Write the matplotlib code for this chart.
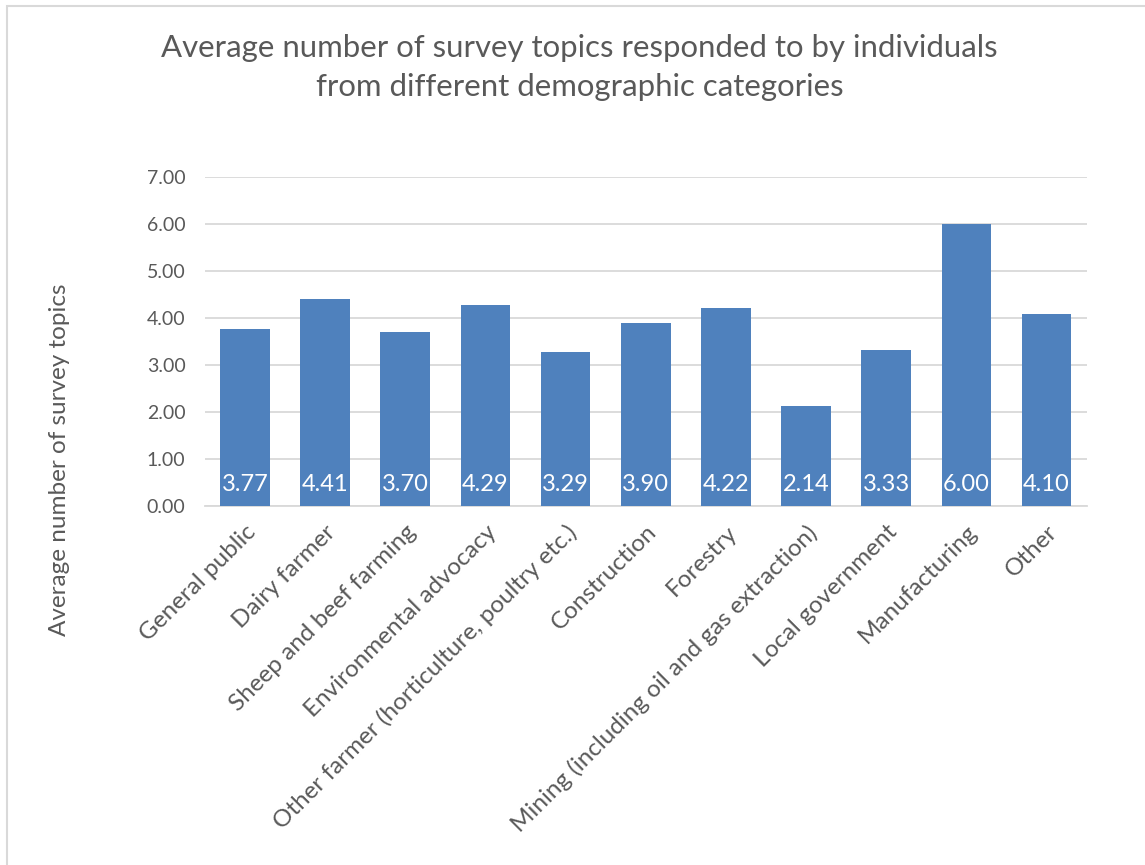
import matplotlib.pyplot as plt
from matplotlib.patches import Rectangle

categories = [
    "General public",
    "Dairy farmer",
    "Sheep and beef farming",
    "Environmental advocacy",
    "Other farmer (horticulture, poultry etc.)",
    "Construction",
    "Forestry",
    "Mining (including oil and gas extraction)",
    "Local government",
    "Manufacturing",
    "Other",
]
avg_topics = [3.77, 4.41, 3.70, 4.29, 3.29, 3.90, 4.22, 2.14, 3.33, 6.00, 4.10]
y_ticks = [0, 1, 2, 3, 4, 5, 6, 7]

plt.rcParams['font.family'] = ['Lato', 'DejaVu Sans']
grey = '#595959'

fig = plt.figure(figsize=(11.45, 8.65), dpi=100)
ax = fig.add_axes([0.179, 0.415, 0.770, 0.380])

# light frame around the chart area
fig.patches.append(Rectangle((6.5 / 1145, -0.01), 1.02, 1 - 5.5 / 865 + 0.01,
                             transform=fig.transFigure, fill=False,
                             edgecolor='#D9D9D9', linewidth=1.5))

x = range(len(categories))
bars = ax.bar(x, avg_topics, width=0.62, color='#4F81BD', zorder=3)

for xi, v in zip(x, avg_topics):
    ax.annotate("{:.2f}".format(v), (xi, 0), xytext=(0, 15.5), textcoords='offset points',
                ha='center', va='center', color='white', fontsize=17, zorder=4)

ax.set_xlim(-0.5, len(categories) - 0.5)
ax.set_ylim(0, 7)
ax.set_yticks(y_ticks)
ax.set_yticklabels(["{:.2f}".format(t) for t in y_ticks], fontsize=14, color=grey)
ax.yaxis.grid(True, color='#D9D9D9', linewidth=1.3, zorder=0)
ax.tick_params(axis='y', length=0, pad=14)
ax.tick_params(axis='x', length=0, pad=11)

ax.set_xticks(list(x))
ax.set_xticklabels(categories, rotation=45, ha='right', va='top',
                   rotation_mode='anchor', fontsize=17.5, color=grey)

for s in ['top', 'right', 'left']:
    ax.spines[s].set_visible(False)
ax.spines['bottom'].set_color('#D9D9D9')
ax.spines['bottom'].set_linewidth(1.3)

fig.text(0.052, 0.469, "Average number of survey topics", rotation=90,
         ha='center', va='center', fontsize=17.5, color=grey)
fig.text(0.506, 0.945, "Average number of survey topics responded to by individuals",
         ha='center', va='center', fontsize=22.4, color=grey)
fig.text(0.506, 0.899, "from different demographic categories",
         ha='center', va='center', fontsize=22.4, color=grey)

fig.savefig('out.png', dpi=100, facecolor='white')
